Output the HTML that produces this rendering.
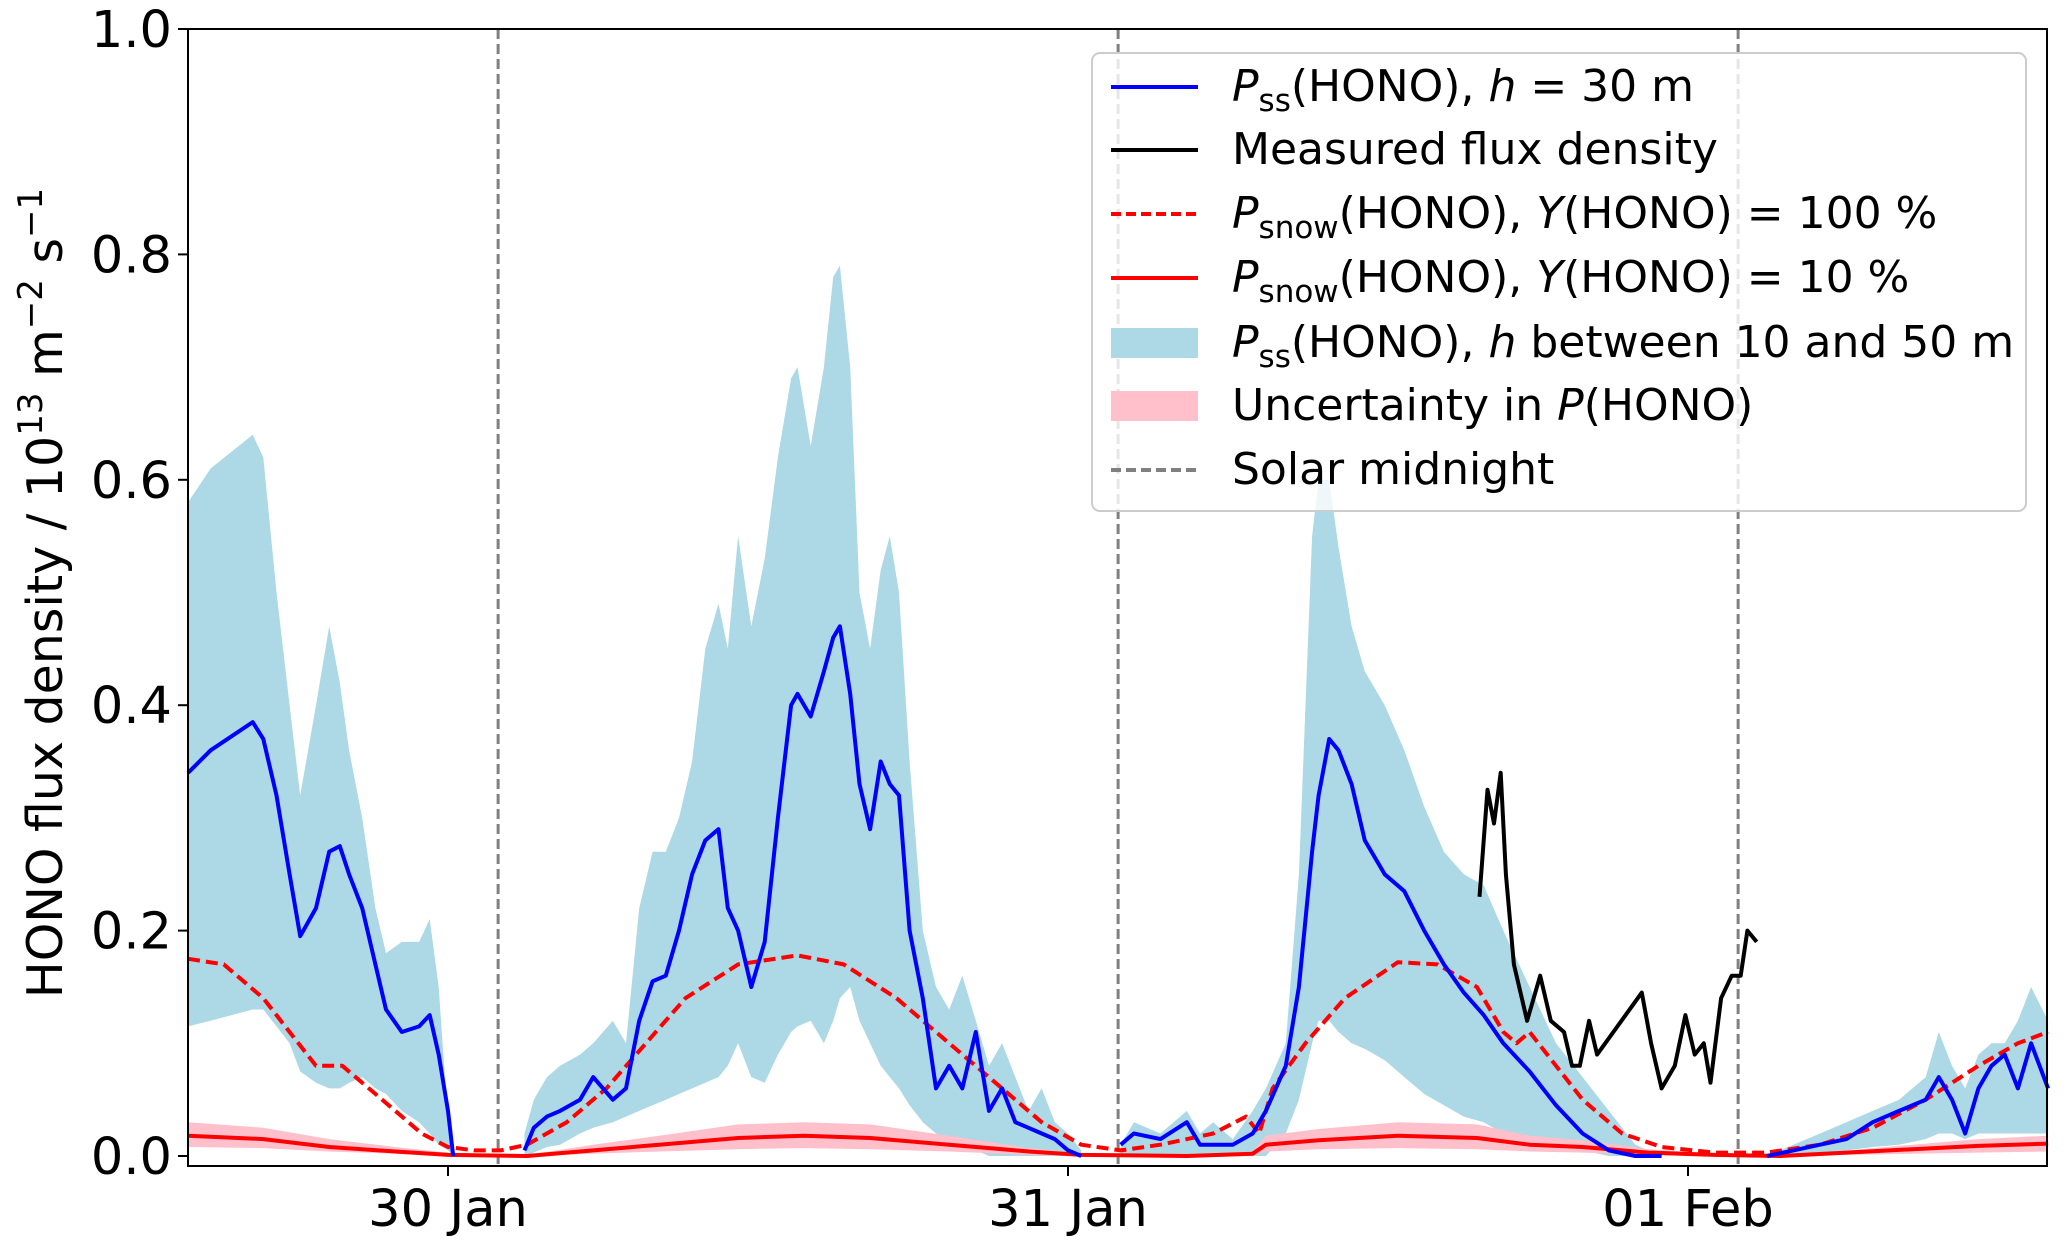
<!DOCTYPE html>
<html><head><meta charset="utf-8"><style>
html,body{margin:0;padding:0;background:#fff;}
svg{display:block;font-family:"DejaVu Sans","Liberation Sans",sans-serif;}
</style></head><body>
<svg id="chart" width="2067" height="1246" viewBox="0 0 2067 1246" xmlns="http://www.w3.org/2000/svg">
<g id="plot"></g>
<g id="axes"></g>
<text transform="translate(62,593) rotate(-90)" text-anchor="middle" font-size="49">HONO flux density / 10<tspan font-size="34" dy="-20">13</tspan><tspan dy="20"> m</tspan><tspan font-size="34" dy="-20">−2</tspan><tspan dy="20"> s</tspan><tspan font-size="34" dy="-20">−1</tspan></text>
<g>
<rect x="1092" y="53" width="934" height="458" rx="8" fill="#fff" fill-opacity="0.8" stroke="#ccc" stroke-width="2"/>
<line x1="1111" y1="87" x2="1198" y2="87" stroke="#0000ff" stroke-width="4"/>
<text x="1232" y="101" font-size="44"><tspan font-style="italic">P</tspan><tspan font-size="31" dy="10">ss</tspan><tspan dy="-10">(HONO), </tspan><tspan font-style="italic">h</tspan> = 30 m</text>
<line x1="1111" y1="150" x2="1198" y2="150" stroke="#000" stroke-width="4"/>
<text x="1232" y="164" font-size="44">Measured flux density</text>
<line x1="1111" y1="214" x2="1198" y2="214" stroke="#ff0000" stroke-width="4" stroke-dasharray="10,5"/>
<text x="1232" y="228" font-size="44"><tspan font-style="italic">P</tspan><tspan font-size="31" dy="10">snow</tspan><tspan dy="-10">(HONO), </tspan><tspan font-style="italic">Y</tspan>(HONO) = 100 %</text>
<line x1="1111" y1="278" x2="1198" y2="278" stroke="#ff0000" stroke-width="4"/>
<text x="1232" y="292" font-size="44"><tspan font-style="italic">P</tspan><tspan font-size="31" dy="10">snow</tspan><tspan dy="-10">(HONO), </tspan><tspan font-style="italic">Y</tspan>(HONO) = 10 %</text>
<rect x="1111" y="328" width="87" height="30" fill="#add8e6"/>
<text x="1232" y="357" font-size="44"><tspan font-style="italic">P</tspan><tspan font-size="31" dy="10">ss</tspan><tspan dy="-10">(HONO), </tspan><tspan font-style="italic">h</tspan> between 10 and 50 m</text>
<rect x="1111" y="391" width="87" height="30" fill="#ffc0cb"/>
<text x="1232" y="420" font-size="44">Uncertainty in <tspan font-style="italic">P</tspan>(HONO)</text>
<line x1="1111" y1="470" x2="1198" y2="470" stroke="#808080" stroke-width="4" stroke-dasharray="10,5"/>
<text x="1232" y="484" font-size="44">Solar midnight</text>
</g>
</svg>
<script>
// time in hours since 30 Jan 00:00
const bandT=[-10.06,-9.19,-7.56,-7.15,-6.64,-6.13,-5.72,-5.11,-4.6,-4.19,-3.83,-3.32,-2.81,-2.4,-1.79,-1.12,-0.71,-0.36,0,0.2,null,
2.96,3.32,3.83,4.34,5.11,5.62,6.38,6.89,7.4,7.92,8.43,8.94,9.45,9.96,10.47,10.83,11.23,11.74,12.26,12.77,13.28,13.53,14.04,14.55,14.91,15.17,15.57,15.93,16.34,16.75,17.1,17.46,17.87,18.38,18.89,19.4,19.91,20.43,20.94,21.45,21.96,22.47,22.98,23.49,24.0,24.51,null,
26.04,26.55,27.58,28.6,29.11,29.62,30.38,31.15,31.66,32.43,32.94,33.45,33.7,34.11,34.47,34.98,35.49,36.26,37.02,37.79,38.55,39.32,40.09,40.85,41.87,42.89,43.92,44.94,45.96,46.98,null,
51.06,52.08,53.11,54.13,55.15,56.17,57.2,57.71,58.22,58.73,59.24,59.75,60.26,60.77,61.28,61.94];
const bandHi=[0.58,0.61,0.64,0.62,0.5,0.4,0.32,0.4,0.47,0.42,0.36,0.3,0.22,0.18,0.19,0.19,0.21,0.15,0.03,0.0,null,
0.02,0.05,0.07,0.08,0.09,0.1,0.12,0.1,0.22,0.27,0.27,0.3,0.35,0.45,0.49,0.45,0.55,0.47,0.53,0.62,0.69,0.7,0.63,0.7,0.78,0.79,0.7,0.5,0.45,0.52,0.55,0.5,0.35,0.2,0.15,0.13,0.16,0.12,0.08,0.1,0.07,0.04,0.06,0.03,0.02,0.005,null,
0.01,0.03,0.02,0.04,0.02,0.03,0.015,0.04,0.06,0.1,0.25,0.55,0.6,0.6,0.54,0.47,0.43,0.4,0.36,0.31,0.27,0.25,0.24,0.2,0.15,0.1,0.07,0.04,0.01,0.0,null,
0.0,0.01,0.02,0.03,0.04,0.05,0.07,0.11,0.08,0.06,0.09,0.1,0.1,0.12,0.15,0.12];
const bandLo=[0.115,0.12,0.13,0.13,0.115,0.1,0.075,0.065,0.06,0.06,0.065,0.07,0.06,0.055,0.04,0.03,0.02,0.01,0.005,0,null,
0,0.003,0.008,0.01,0.02,0.025,0.03,0.035,0.04,0.045,0.05,0.055,0.06,0.065,0.07,0.08,0.1,0.07,0.065,0.09,0.11,0.115,0.12,0.1,0.12,0.14,0.15,0.12,0.1,0.08,0.07,0.06,0.045,0.03,0.02,0.015,0.01,0.005,0,0,0,0,0,0,0,0,null,
0,0,0,0,0,0,0,0,0,0.02,0.05,0.1,0.12,0.12,0.11,0.1,0.095,0.085,0.07,0.055,0.045,0.035,0.03,0.02,0.015,0.01,0.005,0,0,0,null,
0,0,0.003,0.005,0.008,0.01,0.015,0.02,0.02,0.015,0.02,0.02,0.02,0.02,0.02,0.02];
const pss30=[0.34,0.36,0.385,0.37,0.32,0.25,0.195,0.22,0.27,0.275,0.25,0.22,0.17,0.13,0.11,0.115,0.125,0.09,0.04,0.0,null,
0.005,0.025,0.035,0.04,0.05,0.07,0.05,0.06,0.12,0.155,0.16,0.2,0.25,0.28,0.29,0.22,0.2,0.15,0.19,0.3,0.4,0.41,0.39,0.43,0.46,0.47,0.41,0.33,0.29,0.35,0.33,0.32,0.2,0.14,0.06,0.08,0.06,0.11,0.04,0.06,0.03,0.025,0.02,0.015,0.005,0.0,null,
0.01,0.02,0.015,0.03,0.01,0.01,0.01,0.02,0.04,0.08,0.15,0.27,0.32,0.37,0.36,0.33,0.28,0.25,0.235,0.2,0.17,0.145,0.125,0.1,0.075,0.045,0.02,0.005,0.0,0.0,null,
0.0,0.005,0.01,0.015,0.03,0.04,0.05,0.07,0.05,0.02,0.06,0.08,0.09,0.06,0.1,0.06];
const snowT=[-10.06,-8.68,-7.15,-6.13,-5.11,-4.09,-3.06,-2.04,-1.02,0,1.02,2.04,3.06,4.6,6.13,7.66,9.19,11.23,13.53,15.32,17.36,19.4,21.45,22.98,24.51,26.04,27.58,29.62,30.89,31.4,31.92,33.19,34.72,36.77,38.3,39.83,40.85,41.36,41.87,42.89,43.92,45.45,46.98,49.02,51.06,53.11,55.15,57.2,59.24,60.77,61.94];
const snow100=[0.175,0.17,0.14,0.11,0.08,0.08,0.06,0.04,0.02,0.008,0.005,0.005,0.01,0.03,0.06,0.1,0.14,0.17,0.178,0.17,0.14,0.1,0.06,0.03,0.01,0.005,0.01,0.02,0.035,0.02,0.06,0.1,0.14,0.172,0.17,0.15,0.11,0.1,0.11,0.08,0.05,0.02,0.008,0.003,0.003,0.01,0.025,0.05,0.08,0.1,0.11];
const lowT=[-10.06,-7.15,-4.6,-2.04,0,3.06,5.62,8.17,11.23,13.79,16.34,19.4,22.47,24.51,28.6,31.15,31.66,33.7,36.77,39.83,41.87,43.92,46.47,49.02,51.57,54.13,56.68,59.24,61.94];
const snow10=[0.018,0.015,0.008,0.004,0.001,0.0,0.005,0.01,0.016,0.018,0.016,0.01,0.004,0.001,0.0,0.002,0.01,0.014,0.018,0.016,0.01,0.008,0.003,0.001,0.0,0.003,0.006,0.009,0.011];
const uncHi=[0.03,0.025,0.015,0.008,0.003,0.001,0.01,0.018,0.028,0.03,0.028,0.018,0.007,0.002,0.001,0.004,0.018,0.024,0.03,0.028,0.018,0.014,0.006,0.002,0.001,0.005,0.01,0.015,0.018];
const uncLo=[0.008,0.007,0.004,0.002,0,0,0.002,0.004,0.006,0.007,0.006,0.004,0.001,0,0,0,0.004,0.006,0.007,0.006,0.004,0.003,0.001,0,0,0.001,0.002,0.003,0.004];
const measT=[39.93,40.24,40.49,40.75,40.95,41.26,41.77,42.28,42.69,43.2,43.51,43.81,44.17,44.48,46.21,46.57,46.98,47.49,47.9,48.26,48.61,48.87,49.28,49.69,50.04,50.3,50.66];
const measured=[0.23,0.325,0.295,0.34,0.25,0.17,0.12,0.16,0.12,0.11,0.08,0.08,0.12,0.09,0.145,0.1,0.06,0.08,0.125,0.09,0.1,0.065,0.14,0.16,0.16,0.2,0.19];
const midnights=[1.94,25.94,49.94];
const xTickHours=[0,24,48];
const xTickLabels=["30 Jan","31 Jan","01 Feb"];
const yTicks=[0,0.2,0.4,0.6,0.8,1.0];
const yTickLabels=["0.0","0.2","0.4","0.6","0.8","1.0"];

const L=188,R=2047,T=29,B=1166;
const X=h=>448+h*(620/24);
const Y=v=>1156-v*1127;
const NS="http://www.w3.org/2000/svg";
const plot=document.getElementById('plot'),axes=document.getElementById('axes');
function mk(tag,attrs,parent){const e=document.createElementNS(NS,tag);for(const k in attrs)e.setAttribute(k,attrs[k]);parent.appendChild(e);return e;}
function segments(t,a){const segs=[];let cur=[];for(let i=0;i<t.length;i++){if(t[i]===null||a[i]===null){if(cur.length)segs.push(cur);cur=[];}else cur.push(i);}if(cur.length)segs.push(cur);return segs;}
function area(t,hi,lo,fill,name){segments(t,hi).forEach(s=>{let d='M'+s.map(i=>X(t[i]).toFixed(1)+','+Y(hi[i]).toFixed(1)).join('L');d+='L'+s.slice().reverse().map(i=>X(t[i]).toFixed(1)+','+Y(lo[i]).toFixed(1)).join('L')+'Z';const p=mk('path',{d:d,fill:fill,stroke:'none'},plot);

});}
function line(t,v,stroke,dash,name,w){segments(t,v).forEach(s=>{const d='M'+s.map(i=>X(t[i]).toFixed(1)+','+Y(v[i]).toFixed(1)).join('L');const p=mk('path',{d:d,fill:'none',stroke:stroke,'stroke-width':w||4,'stroke-linejoin':'round'},plot);if(dash)p.setAttribute('stroke-dasharray',dash);

});}
area(bandT,bandHi,bandLo,'#add8e6','pss-range-band');
area(lowT,uncHi,uncLo,'#ffc0cb','uncertainty-band');
midnights.forEach(m=>{const l=mk('line',{x1:X(m),x2:X(m),y1:T,y2:B,stroke:'#808080','stroke-width':3,'stroke-dasharray':'10,5'},plot);

});
line(snowT,snow100,'#ff0000','12,6','psnow-100-line');
line(lowT,snow10,'#ff0000',null,'psnow-10-line');
line(bandT,pss30,'#0000ff',null,'pss-30m-line');
line(measT,measured,'#000000',null,'measured-flux-line');
const fr=mk('rect',{x:L,y:T,width:R-L,height:B-T,fill:'none',stroke:'#000','stroke-width':2},axes);


yTicks.forEach((v,i)=>{mk('line',{x1:L-10,x2:L,y1:Y(v),y2:Y(v),stroke:'#000','stroke-width':2},axes);const t=mk('text',{x:L-16,y:Y(v)+18,'text-anchor':'end','font-size':51},axes);t.textContent=yTickLabels[i];

});
xTickHours.forEach((h,i)=>{mk('line',{x1:X(h),x2:X(h),y1:B,y2:B+10,stroke:'#000','stroke-width':2},axes);const t=mk('text',{x:X(h),y:1226,'text-anchor':'middle','font-size':51},axes);t.textContent=xTickLabels[i];

});
</script>
</body></html>
